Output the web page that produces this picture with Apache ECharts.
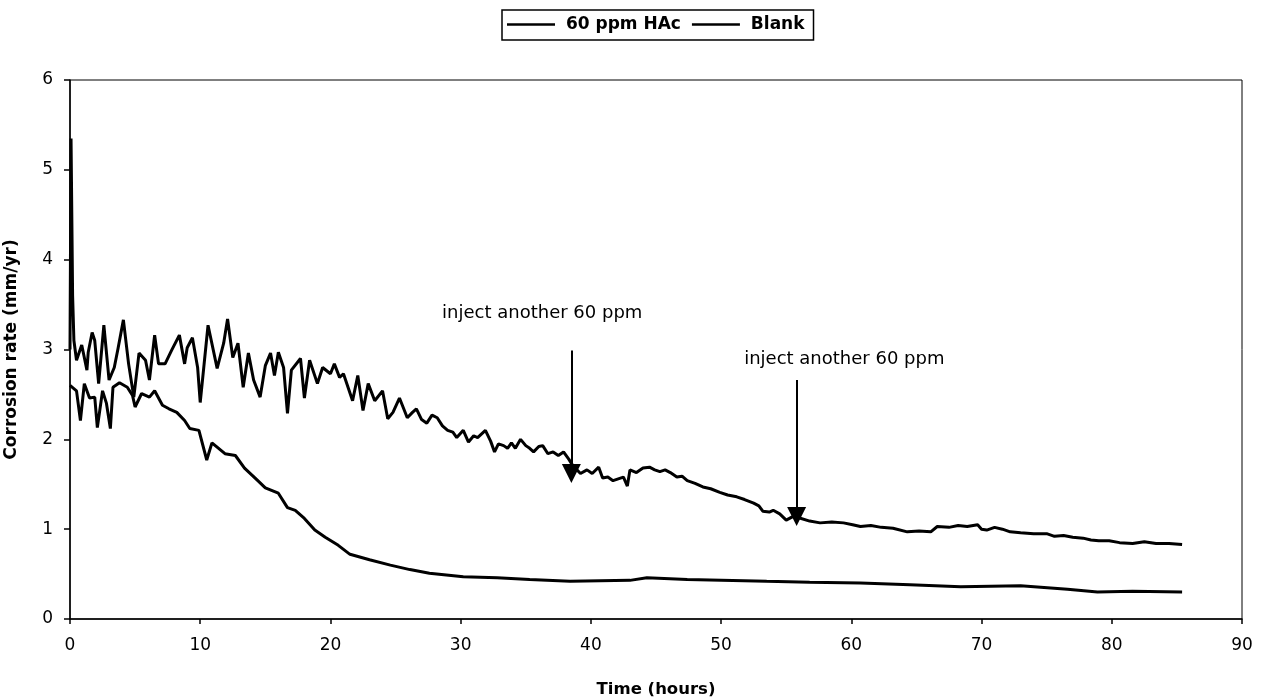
<!DOCTYPE html>
<html>
<head>
<meta charset="utf-8">
<script src="https://cdn.jsdelivr.net/npm/echarts@6/dist/echarts.min.js"></script>
<style>html,body{margin:0;padding:0;background:#fff;}#c{width:1276px;height:700px;}</style>
</head>
<body>
<div id="c"></div>
<script>
// 60 ppm HAc series: [time (hours), corrosion rate (mm/yr)]
const hacData = [
[0,3.0],[0.08,5.35],[0.2,3.6],[0.3,3.1],[0.5,2.88],[0.9,3.05],[1.3,2.77],[1.4,2.97],[1.7,3.19],[1.9,3.1],
[2.2,2.62],[2.6,3.27],[3.0,2.66],[3.4,2.8],[3.7,3.02],[4.1,3.33],[4.5,2.84],[4.9,2.47],[5.3,2.96],[5.8,2.88],
[6.1,2.66],[6.5,3.16],[6.8,2.84],[7.3,2.84],[7.8,2.99],[8.4,3.16],[8.8,2.84],[9.0,3.02],[9.4,3.13],[9.8,2.8],
[10.0,2.41],[10.3,2.84],[10.6,3.27],[11.3,2.79],[11.8,3.07],[12.1,3.34],[12.5,2.91],[12.9,3.07],[13.3,2.58],[13.7,2.96],
[14.1,2.66],[14.6,2.47],[15.0,2.82],[15.4,2.96],[15.7,2.71],[16.0,2.97],[16.4,2.80],[16.7,2.29],[17.0,2.77],[17.7,2.90],
[18.0,2.46],[18.4,2.88],[19.0,2.62],[19.4,2.80],[20.0,2.73],[20.3,2.84],[20.7,2.69],[21.0,2.73],[21.7,2.43],[22.1,2.71],
[22.5,2.32],[22.9,2.62],[23.4,2.43],[24.0,2.54],[24.4,2.23],[24.8,2.30],[25.3,2.46],[25.9,2.24],[26.3,2.30],[26.6,2.34],
[27.0,2.22],[27.4,2.18],[27.8,2.27],[28.2,2.24],[28.6,2.15],[29.0,2.10],[29.4,2.08],[29.7,2.02],[30.2,2.10],[30.6,1.97],
[31.0,2.04],[31.3,2.02],[31.9,2.10],[32.3,1.98],[32.6,1.86],[32.9,1.95],[33.3,1.93],[33.6,1.90],[33.9,1.96],[34.2,1.90],
[34.6,2.0],[35.0,1.93],[35.3,1.90],[35.6,1.86],[36.0,1.92],[36.3,1.93],[36.7,1.84],[37.1,1.86],[37.5,1.82],[37.9,1.86],
[38.3,1.78],[38.6,1.71],[39.2,1.62],[39.7,1.66],[40.1,1.62],[40.6,1.69],[40.9,1.57],[41.3,1.58],[41.7,1.54],[42.1,1.56],
[42.5,1.58],[42.8,1.48],[43.0,1.66],[43.5,1.63],[44.0,1.68],[44.5,1.69],[44.9,1.66],[45.3,1.64],[45.7,1.66],[46.1,1.63],
[46.6,1.58],[47.0,1.59],[47.4,1.54],[48.0,1.51],[48.6,1.47],[49.2,1.45],[49.9,1.41],[50.5,1.38],[51.2,1.36],[51.8,1.33],
[52.5,1.29],[52.9,1.26],[53.2,1.20],[53.7,1.19],[54.0,1.21],[54.5,1.17],[55.0,1.10],[55.5,1.14],[55.9,1.13],[56.8,1.09],
[57.6,1.07],[58.5,1.08],[59.4,1.07],[60.1,1.05],[60.7,1.03],[61.5,1.04],[62.3,1.02],[63.2,1.01],[64.3,0.97],[65.2,0.98],
[66.1,0.97],[66.6,1.03],[67.5,1.02],[68.2,1.04],[68.9,1.03],[69.7,1.05],[70.0,1.00],[70.4,0.99],[71.0,1.02],[71.6,1.00],
[72.2,0.97],[73.0,0.96],[74.0,0.95],[75.0,0.95],[75.6,0.92],[76.3,0.93],[77.0,0.91],[77.8,0.90],[78.4,0.88],[79.0,0.87],
[79.8,0.87],[80.6,0.85],[81.6,0.84],[82.5,0.86],[83.4,0.84],[84.4,0.84],[85.4,0.83]
];
// Blank series: [time (hours), corrosion rate (mm/yr)]
const blankData = [
[0,2.6],[0.5,2.54],[0.8,2.21],[1.1,2.62],[1.5,2.46],[1.9,2.47],[2.1,2.13],[2.5,2.54],[2.8,2.40],[3.1,2.12],
[3.3,2.58],[3.8,2.63],[4.4,2.58],[4.8,2.49],[5.0,2.36],[5.5,2.51],[6.1,2.47],[6.5,2.54],[7.1,2.38],[7.6,2.34],
[8.2,2.30],[8.8,2.21],[9.2,2.12],[9.9,2.10],[10.5,1.77],[10.9,1.96],[11.9,1.84],[12.7,1.82],[13.4,1.68],[14.2,1.57],
[15.0,1.46],[16.0,1.40],[16.7,1.24],[17.3,1.21],[18.0,1.12],[18.8,0.99],[19.6,0.91],[20.6,0.82],[21.5,0.72],[23.0,0.66],
[24.6,0.60],[26.1,0.55],[27.6,0.51],[30.2,0.47],[32.8,0.46],[35.3,0.44],[38.4,0.42],[43.0,0.43],[44.3,0.46],[47.4,0.44],
[53.5,0.42],[56.8,0.41],[60.7,0.40],[64.5,0.38],[68.4,0.36],[73.0,0.37],[76.6,0.33],[78.9,0.30],[81.6,0.31],[85.4,0.30]
];
// Injection arrows: time, arrow top value, arrow head value
const arrowHours = [38.5, 55.8];
const arrowTop = [2.99, 2.66];
const arrowHead = [1.62, 1.14];
// Annotation texts: position in data units
const noteHours = [36.3, 59.5];
const noteRates = [3.4, 2.89];
const noteTexts = ['inject another 60 ppm', 'inject another 60 ppm'];
const seriesNames = ['60 ppm HAc', 'Blank'];

const FONT = 'DejaVu Sans, sans-serif';
const chart = echarts.init(document.getElementById('c'));
chart.setOption({
  animation: false,
  backgroundColor: '#fff',
  textStyle: {fontFamily: FONT, color: '#000'},
  grid: {left: 70, right: 34, top: 80, bottom: 81, outerBoundsMode: 'none', containLabel: false,
         show: true, borderColor: '#000', borderWidth: 1, backgroundColor: 'transparent'},
  legend: {
    data: seriesNames.map(n => ({name: n, icon: 'rect'})),
    formatter: ' {name}',
    left: 502, top: 10,
    padding: [6, 9, 7, 5],
    borderColor: '#000', borderWidth: 1.5,
    itemWidth: 48, itemHeight: 2.5, itemGap: 11,
    itemStyle: {color: '#000', borderWidth: 0},
    textStyle: {fontFamily: FONT, fontSize: 17, fontWeight: 'bold', color: '#000'}
  },
  xAxis: {
    type: 'value', min: 0, max: 90, interval: 10,
    name: 'Time (hours)', nameLocation: 'middle', nameGap: 62,
    nameTextStyle: {fontFamily: FONT, fontSize: 16.5, fontWeight: 'bold', color: '#000'},
    axisLine: {show: true, lineStyle: {color: '#000', width: 1.5}},
    axisTick: {show: true, inside: false, length: 5, lineStyle: {color: '#000', width: 1.5}},
    axisLabel: {fontFamily: FONT, fontSize: 17, color: '#000', margin: 18},
    splitLine: {show: false}
  },
  yAxis: {
    type: 'value', min: 0, max: 6, interval: 1,
    name: 'Corrosion rate (mm/yr)', nameLocation: 'middle', nameGap: 50,
    nameTextStyle: {fontFamily: FONT, fontSize: 17, fontWeight: 'bold', color: '#000'},
    axisLine: {show: true, lineStyle: {color: '#000', width: 1.5}},
    axisTick: {show: true, inside: false, length: 6, lineStyle: {color: '#000', width: 1.5}},
    axisLabel: {fontFamily: FONT, fontSize: 17, color: '#000', margin: 17},
    splitLine: {show: false}
  },
  series: [
    {
      name: seriesNames[0], type: 'line', data: hacData, symbol: 'none',
      lineStyle: {color: '#000', width: 3}, itemStyle: {color: '#000'},
      markLine: {
        silent: true, symbol: ['none', 'triangle'], symbolSize: 19,
        lineStyle: {color: '#000', width: 2, type: 'solid'},
        itemStyle: {color: '#000'},
        label: {show: false},
        data: arrowHours.map((h, i) => [{coord: [h, arrowTop[i]]}, {coord: [h, arrowHead[i]]}])
      }
    },
    {
      name: seriesNames[1], type: 'line', data: blankData, symbol: 'none',
      lineStyle: {color: '#000', width: 3}, itemStyle: {color: '#000'}
    },
    {
      name: 'notes', type: 'scatter', symbolSize: 1, silent: true,
      itemStyle: {color: 'rgba(0,0,0,0)', opacity: 1},
      data: noteHours.map((h, i) => ({value: [h, noteRates[i]], name: noteTexts[i]})),
      label: {show: true, position: [0, 0], align: 'center', verticalAlign: 'middle', opacity: 1,
              formatter: p => p.name, fontFamily: FONT, fontSize: 18, color: '#000', textBorderWidth: 0}
    }
  ]
});
</script>
</body>
</html>
